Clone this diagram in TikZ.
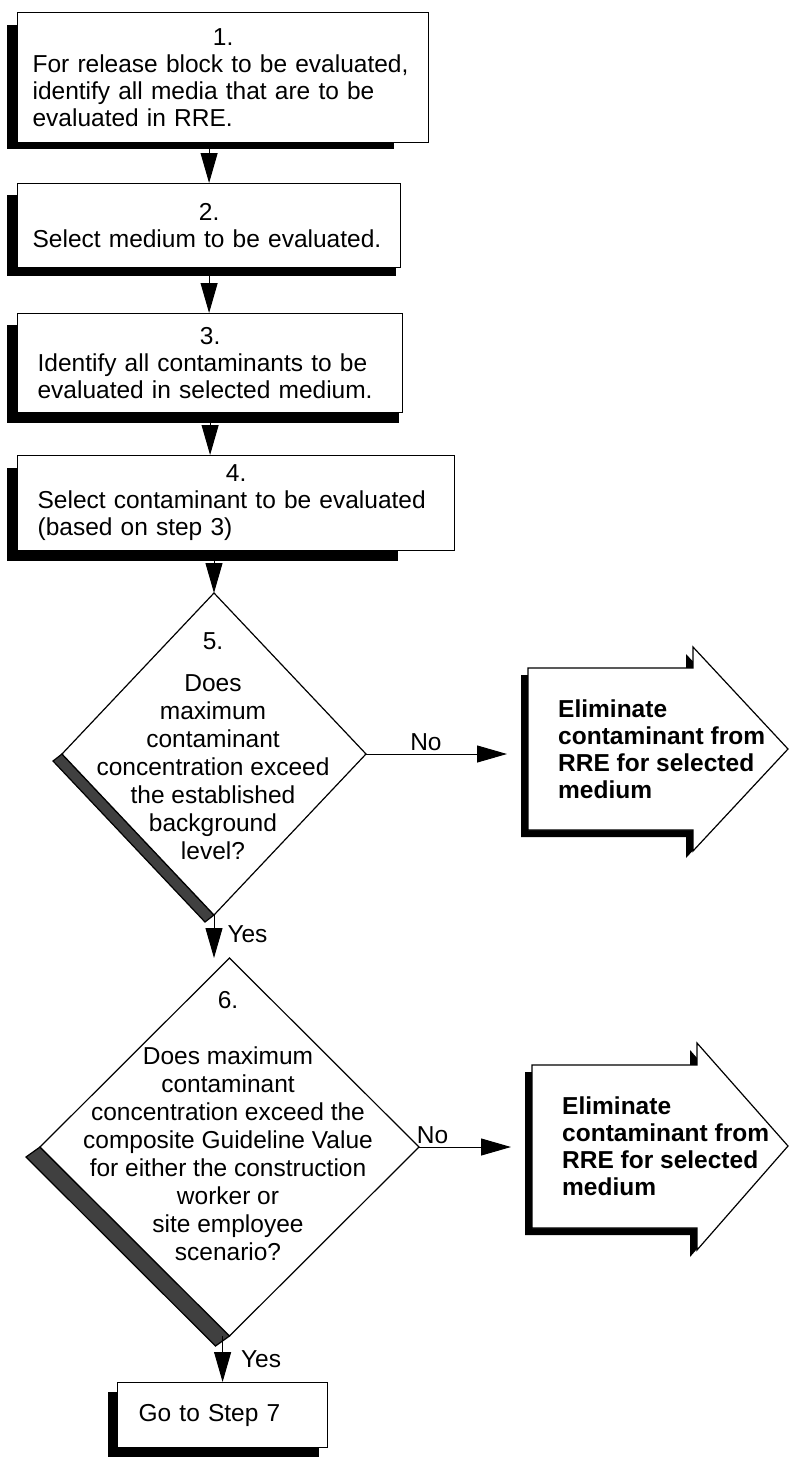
\documentclass[tikz,border=0pt]{standalone}
\usepackage{fontspec}
\setmainfont{Liberation Sans}
\usetikzlibrary{arrows.meta,shapes.geometric,backgrounds}
\setlength{\parindent}{0pt}
\hyphenpenalty=10000
\exhyphenpenalty=10000
\newcommand{\stepno}[1]{\noindent\makebox[\hsize]{#1}\\}

\begin{document}
\begin{tikzpicture}[x=1pt, y=-1pt, >={Triangle[length=30pt,width=17pt]},
  every node/.style={font=\fontsize{24.5}{27}\selectfont},
  stepbox/.style={draw, fill=white, line width=1.2pt, anchor=north west, align=left, inner ysep=0pt, inner xsep=20pt},
  decision/.style={draw, diamond, fill=white, line width=1.2pt, inner sep=0pt, outer sep=0pt},
  qtext/.style={align=center, font=\fontsize{24.5}{28}\selectfont},
  elimtext/.style={anchor=west, align=left, inner xsep=30pt, font=\fontsize{24.5}{27}\selectfont\bfseries},
  elimshape/.style={draw, fill=white, line width=1.2pt},
  band/.style={draw=black, fill=black!75, line width=1.2pt},
  flow/.style={->, line width=1pt},
  tag/.style={inner sep=3pt}]
\useasboundingbox (0,0) rectangle (789,1457);
\node[stepbox, inner xsep=15pt, text width=381pt, minimum height=130pt] (b1) at (17,12) {\stepno{1.}For release block to be evaluated,\\identify all media that are to be\\evaluated in RRE.};
\node[stepbox, inner xsep=15pt, text width=353pt, minimum height=84pt] (b2) at (17,183) {\stepno{2.}Select medium to be evaluated.};
\node[stepbox, text width=345pt, minimum height=99pt] (b3) at (17,313) {\stepno{3.}Identify all contaminants to be\\evaluated in selected medium.};
\node[stepbox, text width=397pt, minimum height=95pt] (b4) at (17,455) {\stepno{4.}Select contaminant to be evaluated\\(based on step 3)};
\node[decision, minimum width=304pt, minimum height=322pt] (d5) at (214,754) {};
\node[qtext] (q5) at (213,746) {5.\\[14pt]Does\\maximum\\contaminant\\concentration exceed\\the established\\background\\level?};
\node[elimtext] (e1) at (528,749) {Eliminate\\contaminant from\\RRE for selected\\medium};
\node[decision, minimum width=379pt, minimum height=378pt] (d6) at (229.5,1147) {};
\node[qtext] (q6) at (228,1126) {6.\\[28pt]Does maximum\\contaminant\\concentration exceed the\\composite Guideline Value\\for either the construction\\worker or\\site employee\\scenario?};
\node[elimtext] (e2) at (532,1146) {Eliminate\\contaminant from\\RRE for selected\\medium};
\node[stepbox, inner xsep=21pt, text width=168pt, minimum height=65pt] (g7) at (117,1382) {Go to Step 7};
\draw[flow] (b1.south -| b2.north) -- (b2.north);
\draw[flow] (b2.south) -- (b2.south |- b3.north);
\draw[flow] (b3.south) -- (b3.south |- b4.north);
\draw[flow] (b4.south -| d5.north) -- (d5.north);
\draw[flow] (d5.south) -- node[tag, right=10pt, pos=0.45] (y5) {Yes} (d5.south |- d6.north);
\draw[flow, shorten >=21pt] (d5.east) -- node[tag, above, pos=0.37] (n5) {No} (d5.east -| e1.west);
\draw[flow, shorten >=21pt] (d6.east) -- node[tag, above, pos=0.12] (n6) {No} (d6.east -| e2.west);
\draw[flow] (d6.south -| g7.north) -- node[tag, right=15pt] (y6) {Yes} (g7.north);
\begin{scope}[on background layer]
\fill ([shift={(-10,13)}]b1.north west) rectangle ([shift={(-35,6)}]b1.south east);
\fill ([shift={(-10,12)}]b2.north west) rectangle ([shift={(-5,8)}]b2.south east);
\fill ([shift={(-10,12)}]b3.north west) rectangle ([shift={(-4,10)}]b3.south east);
\fill ([shift={(-10,13)}]b4.north west) rectangle ([shift={(-57,10)}]b4.south east);
\fill ([shift={(-9,10)}]g7.north west) rectangle ([shift={(-9,10)}]g7.south east);
\filldraw[band] (d5.west) -- (d5.south) -- ++(-9,7) -- ([shift={(-9,7)}]d5.west) -- cycle;
\filldraw[band] (d6.west) -- (d6.south) -- ++(-14,10) -- ([shift={(-14,10)}]d6.west) -- cycle;
\fill[shift={(-7,7)}] (528,668) -- (693,668) -- (693,647) -- (788,749) -- (693,851) -- (693,830) -- (528,830) -- cycle;
\draw[elimshape] (528,668) -- (693,668) -- (693,647) -- (788,749) -- (693,851) -- (693,830) -- (528,830) -- cycle;
\fill[shift={(-7,7)}] (532,1065) -- (697,1065) -- (697,1043) -- (788,1146) -- (697,1250) -- (697,1228) -- (532,1228) -- cycle;
\draw[elimshape] (532,1065) -- (697,1065) -- (697,1043) -- (788,1146) -- (697,1250) -- (697,1228) -- (532,1228) -- cycle;
\end{scope}
\end{tikzpicture}
\end{document}
